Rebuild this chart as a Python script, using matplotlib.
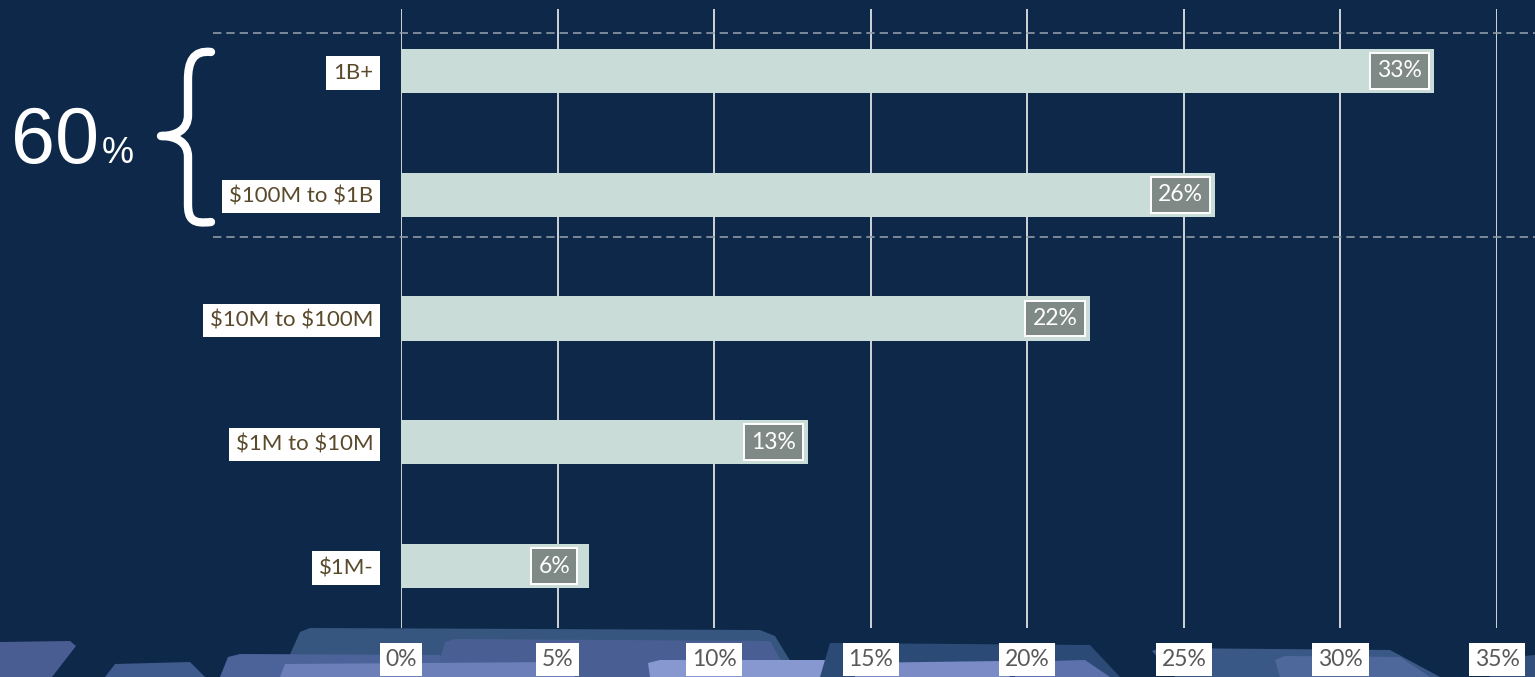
import matplotlib.pyplot as plt
from matplotlib.path import Path
from matplotlib.patches import PathPatch, Polygon
from matplotlib.lines import Line2D
import matplotlib.transforms as mtransforms

plt.rcParams["font.family"] = ["Lato", "DejaVu Sans"]

W, H = 1535, 677
NAVY = "#0e2849"
BAR = "#c9dcd8"
LABEL_BOX = "#7f8a87"

categories = ["1B+", "$100M to $1B", "$10M to $100M", "$1M to $10M", "$1M-"]
shares = [33, 26, 22, 13, 6]
xticks = [0, 5, 10, 15, 20, 25, 30, 35]
xtick_labels = [f"{t}%" for t in xticks]
top_two_total = "60"


def fx(px):
    return px / W


def fy(py):
    return 1 - py / H


fig = plt.figure(figsize=(W / 100, H / 100), dpi=100, facecolor=NAVY)

# decorative shapes along the bottom edge (pixel coords, y from top)
blobs = [
    ([(0, 642), (70, 641), (76, 646), (52, 677), (0, 677)], "#4a5d92"),
    ([(115, 664), (190, 662), (205, 677), (105, 677)], "#3f5a8c"),
    ([(300, 632), (310, 628), (760, 630), (775, 636), (800, 677), (280, 677)], "#36567f"),
    ([(228, 657), (240, 654), (440, 655), (460, 677), (220, 677)], "#4b6399"),
    ([(445, 642), (455, 639), (770, 641), (790, 677), (435, 677)], "#495f93"),
    ([(285, 664), (560, 662), (575, 677), (280, 677)], "#6d7fb8"),
    ([(648, 663), (660, 660), (870, 660), (885, 677), (650, 677)], "#8797cf"),
    ([(830, 643), (1090, 645), (1120, 677), (820, 677)], "#2c4a76"),
    ([(850, 663), (1000, 661), (1010, 677), (855, 677)], "#7a8bc6"),
    ([(1152, 651), (1160, 648), (1390, 650), (1440, 677), (1175, 677)], "#3a5885"),
    ([(1275, 660), (1285, 656), (1400, 657), (1430, 677), (1280, 677)], "#4f689c"),
    ([(1015, 662), (1085, 660), (1110, 677), (1015, 677)], "#5d72ac"),
    ([(1480, 660), (1535, 655), (1535, 677), (1490, 677)], "#33507c"),
]
for pts, col in blobs:
    fig.patches.append(Polygon([(fx(x), fy(y)) for x, y in pts], closed=True,
                               facecolor=col, edgecolor="none",
                               transform=fig.transFigure, zorder=-5))

ax = fig.add_axes([fx(401), fy(628), fx(1497) - fx(401), fy(9) - fy(628)])
ax.patch.set_visible(False)
ax.set_zorder(2)

y = list(range(len(categories)))
ax.barh(y, shares, height=0.356, color=BAR, zorder=2)
ax.set_ylim(len(categories) - 0.5, -0.5)
ax.set_xlim(0, 35)

ax.set_xticks(xticks)
ax.set_xticklabels(xtick_labels)
ax.set_yticks(y)
ax.set_yticklabels([c.replace("$", r"\$") for c in categories])
ax.grid(axis="x", color="#d0d4d8", linewidth=1.4, zorder=1)
ax.tick_params(axis="x", length=0, pad=15, labelsize=16.5, labelcolor="#595959")
ax.tick_params(axis="y", length=0, pad=20, labelsize=16, labelcolor="#5a4a2c")
for lbl in ax.get_xticklabels():
    lbl.set_bbox(dict(boxstyle="square,pad=0.25", facecolor="white", edgecolor="none"))
for lbl in ax.get_yticklabels():
    lbl.set_bbox(dict(boxstyle="square,pad=0.3", facecolor="white", edgecolor="none"))
for s in ax.spines.values():
    s.set_visible(False)

for yi, v in zip(y, shares):
    ax.annotate(f"{v}%", xy=(v, yi), xytext=(-25, 0), textcoords="offset points",
                ha="center", va="center", fontsize=16.5, color="white", zorder=4,
                bbox=dict(boxstyle="square,pad=0.32", facecolor=LABEL_BOX,
                          edgecolor="white", linewidth=1.4))

# dashed guides around the top two groups
blend = mtransforms.blended_transform_factory(fig.transFigure, ax.transData)
for yl in (-0.307, 1.34):
    fig.lines.append(Line2D([fx(213), 1.0], [yl, yl], transform=blend,
                            color="#8f99a6", linewidth=1.2, linestyle=(0, (5, 3))))

# curly brace
bx = [(211, 52), (193, 50), (188, 62), (188, 80),
      (188, 115), (188, 130), (176, 136), (161, 136),
      (176, 136), (188, 142), (188, 157),
      (188, 204), (188, 220), (193, 224), (211, 222)]
codes = [Path.MOVETO, Path.CURVE4, Path.CURVE4, Path.CURVE4,
         Path.LINETO, Path.CURVE4, Path.CURVE4, Path.CURVE4,
         Path.CURVE4, Path.CURVE4, Path.CURVE4,
         Path.LINETO, Path.CURVE4, Path.CURVE4, Path.CURVE4]
brace = Path([(fx(px), fy(py)) for px, py in bx], codes)
fig.patches.append(PathPatch(brace, facecolor="none", edgecolor="white",
                             linewidth=6, capstyle="round", joinstyle="round",
                             transform=fig.transFigure))

fig.text(fx(11), fy(163), top_two_total, fontsize=57, color="white",
         family="Liberation Sans", ha="left", va="baseline")
fig.text(fx(102), fy(163), "%", fontsize=26, color="white",
         family="Liberation Sans", ha="left", va="baseline")

fig.savefig("out.png", dpi=100, facecolor=NAVY)
